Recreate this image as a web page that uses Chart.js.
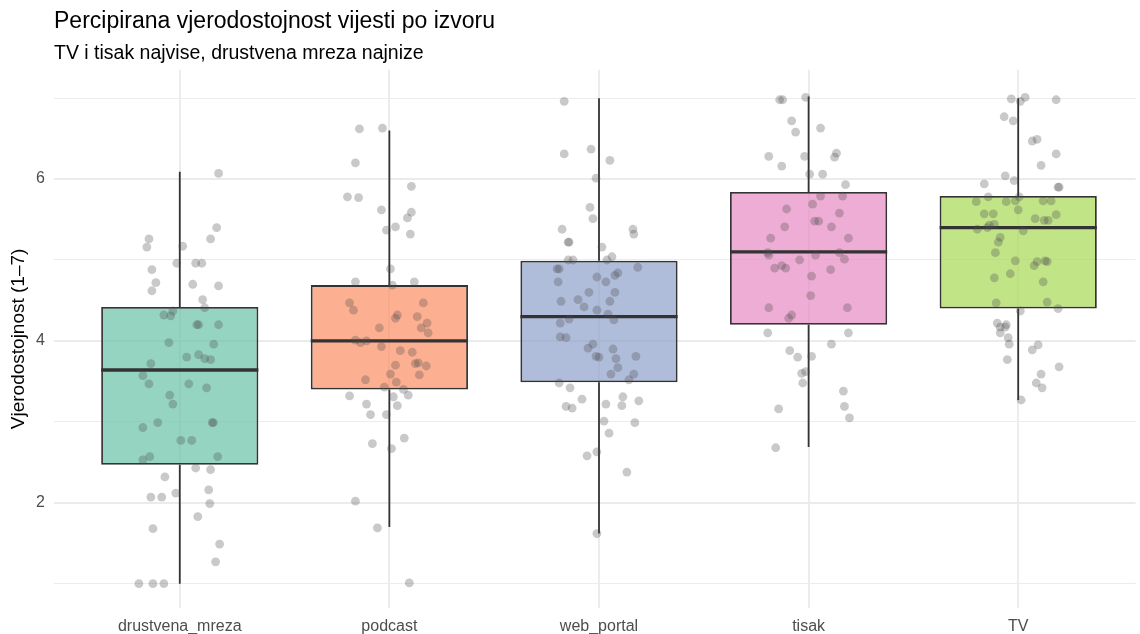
<!DOCTYPE html>
<html>
<head>
<meta charset="utf-8">
<script src="https://cdn.jsdelivr.net/npm/chart.js@4.4.1/dist/chart.umd.min.js"></script>
<style>
html, body { margin: 0; padding: 0; background: #ffffff; }
#wrap { width: 1140px; height: 634px; }
</style>
</head>
<body>
<div id="wrap"><canvas id="c" width="1140" height="634"></canvas></div>
<script>
// ---------- DATA ----------
const categories = ['drustvena_mreza', 'podcast', 'web_portal', 'tisak', 'TV'];

// box statistics
const q1          = [2.47, 3.40, 3.49, 4.20, 4.40];
const medians     = [3.64, 4.00, 4.30, 5.10, 5.40];
const q3          = [4.42, 4.69, 4.99, 5.84, 5.79];
const whiskerLow  = [1.00, 1.70, 1.62, 2.69, 3.27];
const whiskerHigh = [6.09, 6.60, 7.00, 7.02, 7.00];

// jittered observations (value, horizontal jitter in category units)
const valuesDrustvena = [6.07,5.40,5.26,5.26,5.16,5.17,4.96,4.96,4.96,4.88,4.72,4.70,4.68,4.62,4.51,4.41,4.37,4.32,4.31,4.20,4.20,4.20,3.98,3.96,3.80,3.83,3.78,3.77,3.72,3.57,3.47,3.47,3.42,3.33,3.22,2.99,2.99,2.99,2.93,2.77,2.77,2.57,2.53,2.57,2.43,2.41,2.32,2.16,2.07,2.07,2.12,1.99,1.83,1.68,1.49,1.27,1.00,1.00,1.00];
const jitterDrustvena = [0.185,0.176,-0.147,0.147,-0.157,0.014,-0.014,0.076,0.105,-0.133,-0.114,0.062,0.185,-0.133,0.109,0.119,-0.033,-0.076,-0.043,0.081,0.09,0.185,-0.052,0.162,0.033,0.09,0.119,0.147,-0.138,-0.176,-0.147,0.043,0.128,-0.048,-0.033,-0.105,0.155,0.16,-0.176,0.005,0.057,-0.143,-0.176,0.181,0.076,0.147,-0.071,0.138,-0.138,-0.086,-0.019,0.143,0.086,-0.128,0.19,0.171,-0.195,-0.128,-0.076];

const valuesPodcast = [6.62,6.63,6.20,5.91,5.78,5.77,5.62,5.59,5.52,5.41,5.37,5.32,4.89,4.73,4.69,4.73,4.47,4.38,4.47,4.32,4.28,4.30,4.22,4.16,4.10,4.16,4.01,3.98,4.00,3.93,3.88,3.86,3.70,3.72,3.73,3.69,3.59,3.58,3.52,3.49,3.43,3.40,3.32,3.31,3.33,3.22,3.20,3.09,3.09,2.80,2.73,2.67,2.02,1.69,1.01];
const jitterPodcast = [-0.143,-0.033,-0.162,0.105,-0.2,-0.147,-0.038,0.105,0.086,0.029,-0.014,0.1,0.005,-0.162,0.014,0.119,-0.19,-0.171,0.162,0.038,0.029,0.133,0.18,0.152,0.185,-0.048,-0.162,-0.138,-0.109,-0.038,0.052,0.109,0.029,0.124,0.138,0.176,0.005,0.143,-0.114,0.033,-0.024,0.067,-0.19,0.019,0.09,-0.109,0.038,-0.09,-0.014,0.071,-0.081,0.01,-0.162,-0.057,0.095];

const valuesWebPortal = [6.96,6.31,6.37,6.23,6.01,5.65,5.51,5.38,5.38,5.32,5.22,5.22,5.16,5.04,5.00,5.00,5.00,4.91,4.89,4.89,4.79,4.81,4.84,4.73,4.73,4.60,4.60,4.49,4.51,4.49,4.42,4.38,4.33,4.27,4.26,4.22,4.05,4.04,3.96,3.91,3.90,3.81,3.80,3.78,3.81,3.67,3.59,3.59,3.52,3.48,3.42,3.28,3.31,3.26,3.19,3.17,3.22,3.20,3.01,2.99,2.86,2.58,2.63,2.38,1.62];
const jitterWebPortal = [-0.166,-0.166,-0.038,0.052,-0.014,-0.043,-0.029,-0.176,0.162,0.166,-0.147,-0.143,0.014,0.062,-0.147,-0.124,0.038,0.185,-0.2,-0.19,-0.01,0.076,0.09,-0.195,0.033,-0.048,0.076,-0.181,-0.1,0.052,-0.071,-0.01,0.043,-0.143,0.071,-0.185,-0.185,-0.157,-0.029,-0.052,0.067,-0.014,0.0,0.081,0.176,0.09,0.057,0.166,0.143,-0.19,-0.138,-0.081,0.114,0.19,-0.157,-0.128,0.033,0.109,0.024,0.171,0.048,-0.057,-0.01,0.133,-0.01];

const valuesTisak = [6.98,6.98,7.01,6.72,6.63,6.58,6.28,6.28,6.27,6.32,6.16,6.06,6.06,5.93,5.79,5.79,5.69,5.63,5.58,5.48,5.48,5.41,5.41,5.27,5.27,5.09,5.06,5.06,5.09,5.00,5.01,4.90,4.93,4.90,4.88,4.80,4.56,4.41,4.41,4.32,4.28,4.10,4.10,3.96,3.88,3.80,3.81,3.60,3.62,3.48,3.38,3.16,3.19,3.05,2.68];
const jitterTisak = [-0.138,-0.124,-0.014,-0.081,0.057,-0.062,-0.19,-0.019,0.124,0.133,-0.128,0.005,0.067,0.176,0.057,0.162,0.019,-0.105,0.147,0.029,0.048,-0.114,0.109,-0.181,0.19,-0.195,-0.19,0.033,0.147,-0.043,0.171,-0.162,-0.128,-0.109,0.105,0.014,0.01,-0.19,0.185,-0.081,-0.095,-0.195,0.19,0.109,-0.09,-0.052,0.014,-0.033,-0.014,-0.028,0.166,-0.143,0.171,0.195,-0.157];

const valuesTV = [6.99,6.96,7.01,6.98,6.77,6.72,6.47,6.49,6.31,6.17,6.04,5.98,5.94,5.90,5.90,5.78,5.72,5.72,5.73,5.78,5.73,5.73,5.62,5.57,5.57,5.51,5.49,5.49,5.56,5.38,5.40,5.43,5.44,5.36,5.28,5.22,5.09,4.99,4.93,4.98,4.99,4.98,4.83,4.78,4.73,4.47,4.48,4.40,4.37,4.22,4.20,4.17,4.17,4.10,4.04,3.96,3.95,3.89,3.77,3.68,3.59,3.48,3.42,3.27];
const jitterTV = [-0.033,0.01,0.033,0.181,-0.067,-0.024,0.067,0.09,0.181,0.109,-0.062,-0.019,-0.162,0.195,0.19,-0.143,-0.2,-0.057,-0.014,0.005,0.119,0.157,0.0,-0.162,-0.119,0.081,0.124,0.143,0.181,-0.195,-0.147,-0.138,-0.114,0.024,-0.086,-0.095,-0.109,-0.014,0.076,0.09,0.128,0.138,-0.038,-0.114,0.119,-0.105,0.138,0.19,0.01,-0.1,-0.057,-0.086,-0.062,-0.086,-0.048,-0.043,0.095,0.067,-0.052,0.195,0.109,0.086,0.114,0.014];

// axis ticks
const yGridValues = [1, 2, 3, 4, 5, 6, 7];
const yTickLabels = [2, 4, 6];

// ---------- STYLE ----------
const FONT = "'Liberation Sans', Arial, Helvetica, sans-serif";
const boxColors = ['rgba(102,194,165,0.7)', 'rgba(252,141,98,0.7)', 'rgba(141,160,203,0.7)', 'rgba(231,138,195,0.7)', 'rgba(166,216,84,0.7)'];
const boxWidth = 0.75;
const dark = '#333333';
const gridColor = '#EBEBEB';

// ---------- BUILD DATASETS ----------
const obsValues = [valuesDrustvena, valuesPodcast, valuesWebPortal, valuesTisak, valuesTV];
const obsJitter = [jitterDrustvena, jitterPodcast, jitterWebPortal, jitterTisak, jitterTV];

const pointData = [];
obsValues.forEach((vals, i) => {
  vals.forEach((v, k) => pointData.push({ x: i + 1 + obsJitter[i][k], y: v }));
});

const boxData = categories.map((c, i) => ({ x: i + 1, y: [q1[i], q3[i]] }));

const whiskerData = [];
categories.forEach((c, i) => {
  whiskerData.push({ x: i + 1, y: whiskerLow[i] }, { x: i + 1, y: q1[i] }, { x: i + 1, y: null });
  whiskerData.push({ x: i + 1, y: q3[i] }, { x: i + 1, y: whiskerHigh[i] }, { x: i + 1, y: null });
});

const medianData = [];
categories.forEach((c, i) => {
  medianData.push({ x: i + 1 - boxWidth / 2, y: medians[i] }, { x: i + 1 + boxWidth / 2, y: medians[i] }, { x: i + 1 + boxWidth / 2, y: null });
});

Chart.defaults.font.family = FONT;

new Chart(document.getElementById('c'), {
  type: 'scatter',
  data: {
    datasets: [
      { type: 'scatter', label: 'obs', data: pointData, backgroundColor: 'rgba(77,77,77,0.3)', borderWidth: 0, pointRadius: 4.4, pointHoverRadius: 4.4, order: 0 },
      { type: 'line', label: 'median', data: medianData, borderColor: dark, borderWidth: 3.4, pointRadius: 0, spanGaps: false, fill: false, borderCapStyle: 'butt', order: 1 },
      { type: 'bar', label: 'box', data: boxData, backgroundColor: boxColors, borderColor: dark, borderWidth: 1.8, borderSkipped: false, categoryPercentage: 1, barPercentage: boxWidth, grouped: false, order: 2 },
      { type: 'line', label: 'whisker', data: whiskerData, borderColor: dark, borderWidth: 1.8, pointRadius: 0, spanGaps: false, fill: false, borderCapStyle: 'butt', order: 3 }
    ]
  },
  options: {
    responsive: false,
    animation: false,
    devicePixelRatio: 1,
    layout: { padding: { left: 0, right: 0, top: 0, bottom: 0 } },
    plugins: {
      legend: { display: false },
      tooltip: { enabled: false },
      title: {
        display: true, text: 'Percipirana vjerodostojnost vijesti po izvoru', align: 'start', fullSize: false,
        color: '#000000', font: { family: FONT, size: 23, weight: 'normal' }, padding: { top: 8, bottom: 0 }
      },
      subtitle: {
        display: true, text: 'TV i tisak najvise, drustvena mreza najnize', align: 'start', fullSize: false,
        color: '#000000', font: { family: FONT, size: 19.5, weight: 'normal' }, padding: { top: 6.5, bottom: 4.3 }
      }
    },
    scales: {
      x: {
        type: 'linear', min: 0.4, max: 5.56, offset: false,
        afterBuildTicks: (s) => { s.ticks = categories.map((c, i) => ({ value: i + 1 })); },
        afterFit: (s) => { s.height = 26; },
        ticks: {
          callback: (v) => categories[Math.round(v) - 1] ?? '',
          color: '#4D4D4D', font: { family: FONT, size: 16 }, padding: 9, autoSkip: false, maxRotation: 0
        },
        grid: { color: gridColor, lineWidth: 1.9, drawTicks: false, offset: false },
        border: { display: false }
      },
      y: {
        type: 'linear', min: 0.7, max: 7.35,
        afterBuildTicks: (s) => { s.ticks = yGridValues.map(v => ({ value: v })); },
        afterFit: (s) => { s.width = 54; },
        ticks: {
          callback: (v) => yTickLabels.includes(v) ? String(v) : '',
          color: '#4D4D4D', font: { family: FONT, size: 16 }, padding: 9, autoSkip: false
        },
        grid: {
          color: gridColor,
          lineWidth: (ctx) => (ctx.tick && yTickLabels.includes(ctx.tick.value)) ? 1.9 : 0.95,
          drawTicks: false
        },
        border: { display: false },
        title: {
          display: true, text: 'Vjerodostojnost (1–7)', color: '#000000',
          font: { family: FONT, size: 19 }, padding: { top: 7, bottom: 0 }
        }
      }
    }
  }
});
</script>
</body>
</html>
